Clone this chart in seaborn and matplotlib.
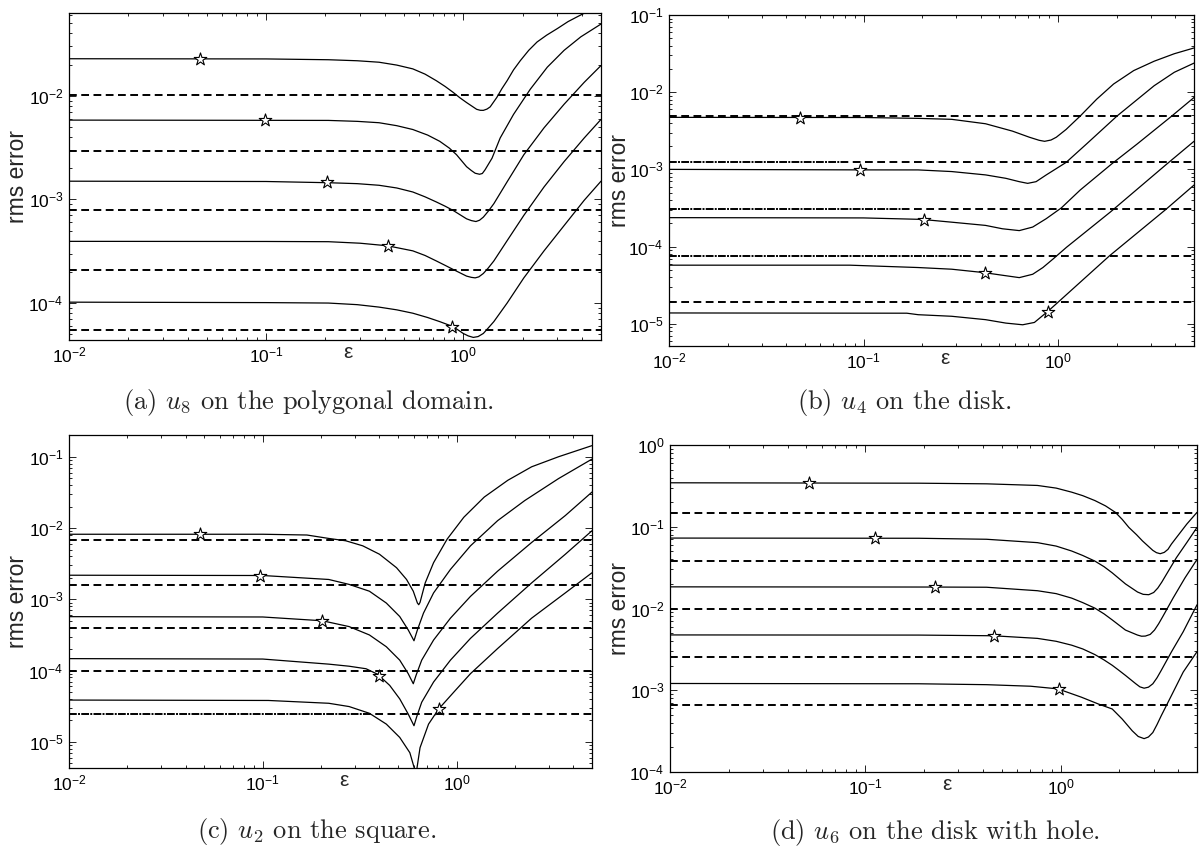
import numpy as np
import matplotlib
matplotlib.use("Agg")
import matplotlib.pyplot as plt
import seaborn as sns
from matplotlib.ticker import LogLocator, NullFormatter, LogFormatterSciNotation

# ---------------- Panel (a): u8 on the polygonal domain ----------------
a_eps = [
    [0.01, 0.1, 0.207, 0.29, 0.374, 0.46, 0.555, 0.64, 0.73, 0.81, 0.889, 0.96, 1.04, 1.17, 1.22, 1.265, 1.32, 1.37, 1.48, 1.57, 1.67, 1.80, 1.95, 2.15, 2.37, 2.65, 3.01, 3.40, 3.80, 4.11, 5.0],
    [0.01, 0.1, 0.207, 0.29, 0.374, 0.46, 0.555, 0.66, 0.76, 0.85, 0.925, 1.04, 1.10, 1.15, 1.21, 1.25, 1.29, 1.40, 1.54, 1.80, 2.19, 2.67, 3.25, 3.95, 5.0],
    [0.01, 0.1, 0.207, 0.29, 0.374, 0.46, 0.555, 0.64, 0.73, 0.81, 0.889, 1.04, 1.10, 1.16, 1.21, 1.265, 1.34, 1.43, 1.67, 2.03, 2.57, 3.25, 4.11, 5.0],
    [0.01, 0.1, 0.207, 0.30, 0.413, 0.555, 0.64, 0.73, 0.81, 0.889, 1.04, 1.10, 1.15, 1.20, 1.265, 1.34, 1.43, 1.67, 2.03, 2.57, 3.25, 4.11, 5.0],
    [0.01, 0.1, 0.207, 0.29, 0.374, 0.46, 0.555, 0.66, 0.76, 0.889, 1.0, 1.06, 1.125, 1.19, 1.265, 1.34, 1.43, 1.67, 2.03, 2.57, 3.25, 4.11, 5.0],
]
a_err = [
    [0.0228, 0.0227, 0.0223, 0.0218, 0.0211, 0.0198, 0.0182, 0.0162, 0.0140, 0.0123, 0.0108, 0.0096, 0.00861, 0.00741, 0.00725, 0.00724, 0.00745, 0.00782, 0.00964, 0.0117, 0.0140, 0.0178, 0.0219, 0.0275, 0.0331, 0.0385, 0.0447, 0.0520, 0.0581, 0.0627, 0.072],
    [0.00583, 0.0058, 0.00579, 0.00567, 0.00550, 0.00515, 0.00473, 0.00418, 0.00364, 0.00313, 0.00270, 0.00207, 0.00190, 0.00179, 0.00175, 0.00178, 0.00193, 0.00250, 0.00392, 0.00662, 0.0116, 0.0189, 0.0275, 0.0371, 0.0493],
    [0.0015, 0.00149, 0.00145, 0.00142, 0.00137, 0.00129, 0.00118, 0.00106, 0.000946, 0.000860, 0.000783, 0.000650, 0.000625, 0.000612, 0.000630, 0.000675, 0.000770, 0.000910, 0.00148, 0.00270, 0.00491, 0.00830, 0.0135, 0.0196],
    [3.94e-4, 3.93e-4, 3.91e-4, 3.78e-4, 3.57e-4, 3.19e-4, 2.88e-4, 2.55e-4, 2.31e-4, 2.11e-4, 1.82e-4, 1.77e-4, 1.75e-4, 1.79e-4, 1.93e-4, 2.18e-4, 2.55e-4, 4.00e-4, 7.02e-4, 1.32e-3, 2.32e-3, 3.92e-3, 5.92e-3],
    [1.02e-4, 1.01e-4, 1.0e-4, 9.65e-5, 9.14e-5, 8.60e-5, 7.98e-5, 7.25e-5, 6.62e-5, 5.92e-5, 5.09e-5, 4.82e-5, 4.66e-5, 4.75e-5, 5.09e-5, 5.75e-5, 6.62e-5, 1.0e-4, 1.75e-4, 3.19e-4, 5.60e-4, 9.82e-4, 1.50e-3],
]
a_dashed = [0.0102, 0.00293, 7.83e-4, 2.08e-4, 5.50e-5]
a_star_eps = [0.046, 0.099, 0.204, 0.414, 0.88]
a_star_err = [0.0228, 0.0058, 0.00148, 3.57e-4, 5.92e-5]
a_ylim = (4.4e-5, 0.063)

# ---------------- Panel (b): u4 on the disk ----------------
b_eps = [
    [0.01, 0.1, 0.191, 0.284, 0.424, 0.583, 0.712, 0.80, 0.853, 0.92, 0.98, 1.10, 1.30, 1.58, 1.93, 2.45, 3.12, 3.96, 5.0],
    [0.01, 0.1, 0.191, 0.284, 0.424, 0.539, 0.632, 0.698, 0.771, 0.870, 1.10, 1.40, 2.01, 3.12, 3.96, 5.0],
    [0.01, 0.1, 0.199, 0.284, 0.424, 0.518, 0.632, 0.741, 0.870, 1.04, 1.30, 1.89, 2.55, 3.81, 5.0],
    [0.01, 0.085, 0.191, 0.284, 0.416, 0.518, 0.632, 0.741, 0.836, 0.942, 1.105, 1.86, 3.59, 5.0],
    [0.01, 0.167, 0.191, 0.284, 0.424, 0.539, 0.658, 0.756, 0.887, 1.0, 1.84, 3.59, 5.0],
]
b_err = [
    [0.00472, 0.00470, 0.00458, 0.00445, 0.00390, 0.00313, 0.00261, 0.00238, 0.00231, 0.00240, 0.00261, 0.00329, 0.00491, 0.00811, 0.01276, 0.01906, 0.0252, 0.0315, 0.0374],
    [0.00100, 0.000985, 0.000984, 0.000937, 0.000848, 0.000766, 0.000693, 0.000659, 0.000693, 0.000848, 0.00123, 0.00213, 0.00491, 0.01213, 0.01811, 0.0238],
    [2.37e-4, 2.35e-4, 2.25e-4, 2.07e-4, 1.88e-4, 1.70e-4, 1.61e-4, 1.79e-4, 2.30e-4, 3.17e-4, 5.40e-4, 1.18e-3, 2.13e-3, 4.82e-3, 8.53e-3],
    [5.74e-5, 5.74e-5, 5.35e-5, 5.09e-5, 4.60e-5, 4.25e-5, 3.96e-5, 4.38e-5, 5.35e-5, 6.89e-5, 9.78e-5, 2.81e-4, 1.15e-3, 2.31e-3],
    [1.38e-5, 1.37e-5, 1.31e-5, 1.25e-5, 1.13e-5, 1.02e-5, 9.70e-6, 1.04e-5, 1.45e-5, 1.90e-5, 7.60e-5, 3.04e-4, 6.26e-4],
]
b_dashed = [0.00491, 0.00123, 3.04e-4, 7.60e-5, 1.90e-5]
b_star_eps = [0.0474, 0.0964, 0.204, 0.422, 0.885]
b_star_err = [0.00468, 9.84e-4, 2.18e-4, 4.60e-5, 1.44e-5]
b_ylim = (5.15e-6, 0.1)
b_overlay_end = [None, 0.081, 0.164, 0.325, None]

# ---------------- Panel (c): u2 on the square ----------------
c_eps = [
    [0.01, 0.1, 0.169, 0.219, 0.268, 0.328, 0.400, 0.490, 0.552, 0.598, 0.628, 0.638, 0.648, 0.689, 0.761, 0.894, 1.09, 1.39, 1.84, 2.44, 3.36, 5.0],
    [0.01, 0.1, 0.219, 0.279, 0.355, 0.434, 0.509, 0.563, 0.603, 0.628, 0.675, 0.761, 0.930, 1.18, 1.63, 2.25, 3.36, 5.0],
    [0.01, 0.1, 0.203, 0.279, 0.355, 0.434, 0.509, 0.563, 0.598, 0.618, 0.661, 0.761, 0.930, 1.18, 1.63, 2.44, 3.64, 5.0],
    [0.01, 0.1, 0.219, 0.279, 0.341, 0.392, 0.452, 0.509, 0.563, 0.603, 0.623, 0.661, 0.761, 0.930, 1.18, 1.63, 2.44, 3.64, 5.0],
    [0.01, 0.107, 0.219, 0.279, 0.355, 0.434, 0.509, 0.574, 0.618, 0.648, 0.717, 0.809, 0.968, 1.18, 1.63, 2.44, 3.64, 5.0],
]
c_err = [
    [0.0082, 0.0082, 0.0080, 0.00716, 0.00664, 0.00564, 0.00430, 0.00278, 0.00190, 0.00130, 0.000887, 0.000840, 0.000906, 0.00170, 0.00327, 0.00700, 0.0142, 0.0273, 0.0470, 0.0726, 0.1005, 0.144],
    [0.00218, 0.00216, 0.00190, 0.00162, 0.00130, 0.000887, 0.000574, 0.000372, 0.000262, 0.000372, 0.00064, 0.00123, 0.00263, 0.00564, 0.01274, 0.0244, 0.0496, 0.0932],
    [5.71e-4, 5.65e-4, 5.0e-4, 4.14e-4, 3.16e-4, 2.16e-4, 1.40e-4, 9.04e-5, 6.53e-5, 8.56e-5, 1.40e-4, 2.68e-4, 5.44e-4, 1.10e-3, 2.49e-3, 6.28e-3, 0.0150, 0.0321],
    [1.47e-4, 1.45e-4, 1.23e-4, 1.15e-4, 1.06e-4, 8.85e-5, 6.18e-5, 4.00e-5, 2.45e-5, 1.68e-5, 2.25e-5, 3.59e-5, 6.90e-5, 1.40e-4, 2.83e-4, 6.41e-4, 1.70e-3, 4.29e-3, 9.19e-3],
    [3.85e-5, 3.8e-5, 3.47e-5, 3.12e-5, 2.51e-5, 1.77e-5, 1.15e-5, 7.02e-6, 3.5e-6, 8.26e-6, 1.77e-5, 2.89e-5, 4.98e-5, 9.04e-5, 2.04e-4, 5.44e-4, 1.23e-3, 2.36e-3],
]
c_dashed = [0.00689, 0.00157, 3.90e-4, 1.00e-4, 2.49e-5]
c_star_eps = [0.0476, 0.0968, 0.203, 0.40, 0.815]
c_star_err = [0.0082, 0.0021, 5.0e-4, 8.5e-5, 2.85e-5]
c_ylim = (4.28e-6, 0.203)
c_overlay_end = [None, None, None, None, 0.36]

# ---------------- Panel (d): u6 on the disk with hole ----------------
d_eps = [
    [0.01, 0.188, 0.418, 0.762, 0.95, 1.14, 1.30, 1.50, 1.70, 1.91, 2.07, 2.24, 2.45, 2.63, 2.97, 3.10, 3.24, 3.40, 3.55, 3.70, 3.92, 4.43, 5.0],
    [0.01, 0.188, 0.418, 0.762, 0.95, 1.14, 1.30, 1.50, 1.67, 1.84, 2.15, 2.48, 2.65, 2.83, 3.00, 3.15, 3.30, 3.48, 3.92, 4.43, 5.0],
    [0.01, 0.221, 0.418, 0.762, 0.95, 1.14, 1.30, 1.50, 1.67, 1.84, 2.15, 2.48, 2.60, 2.72, 2.88, 3.03, 3.18, 3.34, 3.77, 4.34, 5.0],
    [0.01, 0.188, 0.453, 0.762, 0.95, 1.14, 1.30, 1.50, 1.67, 1.84, 1.98, 2.15, 2.43, 2.55, 2.68, 2.82, 2.97, 3.12, 3.28, 3.70, 4.25, 5.0],
    [0.01, 0.188, 0.418, 0.703, 0.969, 1.28, 1.56, 1.84, 2.07, 2.33, 2.50, 2.68, 2.82, 2.97, 3.12, 3.28, 3.70, 4.25, 5.0],
]
d_err = [
    [0.345, 0.341, 0.335, 0.320, 0.297, 0.265, 0.240, 0.209, 0.180, 0.150, 0.123, 0.098, 0.080, 0.067, 0.0514, 0.0482, 0.0468, 0.0486, 0.0529, 0.0615, 0.0736, 0.1076, 0.150],
    [0.0727, 0.0723, 0.0703, 0.0639, 0.0580, 0.0505, 0.0445, 0.0380, 0.0325, 0.0273, 0.0200, 0.0159, 0.0149, 0.01475, 0.0157, 0.0178, 0.0210, 0.0260, 0.0418, 0.0639, 0.098],
    [0.0184, 0.0183, 0.0182, 0.0165, 0.0152, 0.0134, 0.0118, 0.0101, 0.0086, 0.00725, 0.00545, 0.00473, 0.00458, 0.0046, 0.00482, 0.00545, 0.0065, 0.00797, 0.0134, 0.0237, 0.0398],
    [4.75e-3, 4.73e-3, 4.64e-3, 4.31e-3, 3.97e-3, 3.56e-3, 3.20e-3, 2.73e-3, 2.35e-3, 2.02e-3, 1.77e-3, 1.52e-3, 1.20e-3, 1.10e-3, 1.06e-3, 1.09e-3, 1.20e-3, 1.42e-3, 1.75e-3, 2.95e-3, 5.20e-3, 0.0111],
    [1.21e-3, 1.20e-3, 1.17e-3, 1.12e-3, 1.04e-3, 8.22e-4, 6.80e-4, 5.90e-4, 4.44e-4, 3.19e-4, 2.72e-4, 2.56e-4, 2.68e-4, 3.04e-4, 3.80e-4, 4.88e-4, 8.63e-4, 1.67e-3, 2.96e-3],
]
d_dashed = [0.148, 0.0382, 9.96e-3, 2.57e-3, 6.52e-4]
d_star_eps = [0.0516, 0.112, 0.227, 0.456, 0.98]
d_star_err = [0.346, 0.0727, 0.0184, 0.00462, 1.05e-3]
d_ylim = (1e-4, 1.0)

x_lim = (0.01, 5.0)
captions = [r"(a) $\mathit{u}_8$ on the polygonal domain.", r"(b) $\mathit{u}_4$ on the disk.",
            r"(c) $\mathit{u}_2$ on the square.", r"(d) $\mathit{u}_6$ on the disk with hole."]

# ---------------- Styling ----------------
sns.set_style("ticks")
plt.rcParams['font.family'] = ['Liberation Sans', 'DejaVu Sans']
plt.rcParams['mathtext.fontset'] = 'custom'
plt.rcParams['mathtext.rm'] = 'Liberation Sans'
plt.rcParams['mathtext.it'] = 'Liberation Sans:italic'
plt.rcParams['mathtext.default'] = 'regular'

W, H = 1203, 846
fig = plt.figure(figsize=(W / 100, H / 100), dpi=100)
fig.patch.set_facecolor('white')


def rect(l, r, t, b):
    return [l / W, 1 - b / H, (r - l) / W, (b - t) / H]


def panel(l, r, t, b, eps_list, err_list, dashed, s_eps, s_err, ylim,
          ylabel_px, overlay_end=None):
    ax = fig.add_axes(rect(l, r, t, b))
    ax.set_xscale('log')
    ax.set_yscale('log')
    for i, v in enumerate(dashed):
        ax.axhline(v, color='black', lw=1.4, ls=(0, (4.0, 2.3)), zorder=2)
        if overlay_end is not None and overlay_end[i] is not None:
            ax.plot([x_lim[0], overlay_end[i]], [v, v], color='black', lw=1.4,
                    ls=(1.65, (1.0, 5.3)), zorder=2)
    for e, rr in zip(eps_list, err_list):
        sns.lineplot(x=e, y=rr, ax=ax, color='black', lw=0.9, estimator=None,
                     sort=False, zorder=3)
    sns.scatterplot(x=s_eps, y=s_err, ax=ax, marker='*', s=90, color='white',
                    edgecolor='black', linewidth=0.8, zorder=5)
    ax.set_xlim(*x_lim)
    ax.set_ylim(*ylim)
    for axis in (ax.xaxis, ax.yaxis):
        axis.set_major_locator(LogLocator(base=10, numticks=20))
        axis.set_minor_locator(LogLocator(base=10, subs=np.arange(2, 10), numticks=200))
        axis.set_minor_formatter(NullFormatter())
        axis.set_major_formatter(LogFormatterSciNotation())
    ax.tick_params(which='both', direction='in', top=True, right=True,
                   width=0.6, colors='black', labelsize=12.5)
    ax.tick_params(which='major', length=5, pad=4)
    ax.tick_params(which='minor', length=2.5)
    for sp in ax.spines.values():
        sp.set_linewidth(0.9)
        sp.set_color('black')
    ax.set_ylabel('rms error', fontsize=16.5, va='center')
    ax.yaxis.set_label_coords((ylabel_px - l) / (r - l), 0.5)
    ax.set_xlabel('')
    ax.text(0.525, -0.038, 'ε', transform=ax.transAxes, ha='center',
            va='center', fontsize=15)
    return ax


panel(69, 601, 13, 340, a_eps, a_err, a_dashed, a_star_eps, a_star_err, a_ylim, 18)
panel(669, 1194, 15, 346, b_eps, b_err, b_dashed, b_star_eps, b_star_err, b_ylim, 620, b_overlay_end)
panel(69, 592, 435, 768, c_eps, c_err, c_dashed, c_star_eps, c_star_err, c_ylim, 18, c_overlay_end)
panel(670, 1197, 445, 772, d_eps, d_err, d_dashed, d_star_eps, d_star_err, d_ylim, 620)

cap_pos = [(308, 402), (904, 402), (317, 831), (935, 832)]
for txt, (cx, cy) in zip(captions, cap_pos):
    fig.text(cx / W, 1 - cy / H, txt, ha='center', va='center', fontsize=19,
             fontfamily='cmr10', math_fontfamily='cm')

fig.savefig('out.png', dpi=100, facecolor='white')
